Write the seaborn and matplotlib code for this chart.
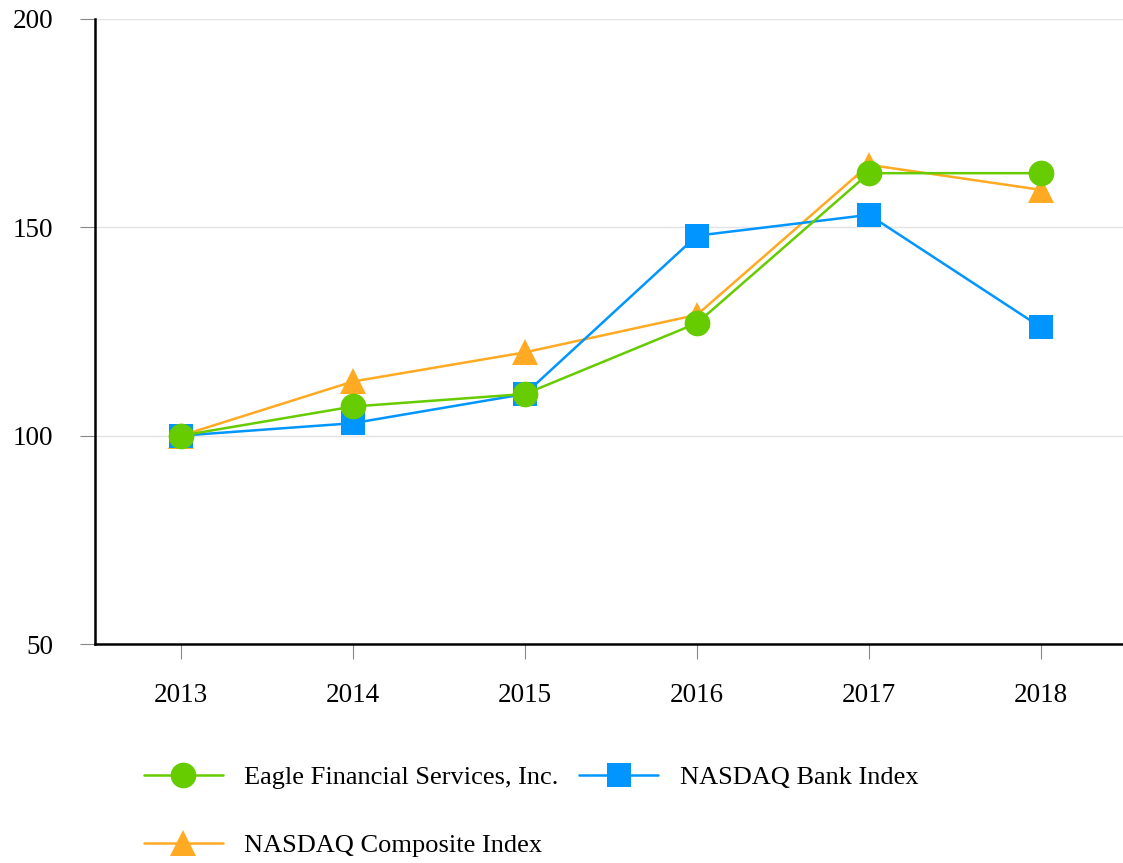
import matplotlib
matplotlib.use("Agg")
import matplotlib.pyplot as plt
import seaborn as sns
import pandas as pd
from matplotlib.lines import Line2D

years = ["2013", "2014", "2015", "2016", "2017", "2018"]
eagle = [100, 107, 110, 127, 163, 163]
bank = [100, 103, 110, 148, 153, 126]
composite = [100, 113, 120, 129, 165, 159]

names = ["Eagle Financial Services, Inc.", "NASDAQ Bank Index", "NASDAQ Composite Index"]
colors = {"Eagle Financial Services, Inc.": "#66CC00",
          "NASDAQ Bank Index": "#0095FF",
          "NASDAQ Composite Index": "#FFAA22"}
markers = {"Eagle Financial Services, Inc.": "o",
           "NASDAQ Bank Index": "s",
           "NASDAQ Composite Index": "^"}
msizes = {"o": 18.5, "s": 17, "^": 19}
values = {"Eagle Financial Services, Inc.": eagle,
          "NASDAQ Bank Index": bank,
          "NASDAQ Composite Index": composite}

sns.set_theme(style="white")
plt.rcParams['font.family'] = ['Liberation Serif', 'DejaVu Serif']

fig = plt.figure(figsize=(11.23, 8.63), dpi=100)
ax = fig.add_axes([95/1123, 1-644/863, 1028/1123, 625/863])

for name in ["NASDAQ Composite Index", "NASDAQ Bank Index", "Eagle Financial Services, Inc."]:
    df = pd.DataFrame({"x": list(range(len(years))), "y": values[name]})
    m = markers[name]
    sns.lineplot(data=df, x="x", y="y", ax=ax, color=colors[name], marker=m,
                 markersize=msizes[m], markeredgewidth=0,
                 linewidth=1.8, legend=False, clip_on=False)

ax.set_xlim(-0.5, 5.477)
ax.set_ylim(50, 200)
ax.set_xticks(range(len(years)))
ax.set_xticklabels(years)
ax.set_yticks([50, 100, 150, 200])
ax.set_xlabel("")
ax.set_ylabel("")
ax.grid(axis="y", color="#e3e3e3", linewidth=1)
ax.set_axisbelow(True)
for s in ["top", "right"]:
    ax.spines[s].set_visible(False)
for s in ["left", "bottom"]:
    ax.spines[s].set_color("black")
    ax.spines[s].set_linewidth(1.8)
ax.tick_params(axis="both", which="major", length=11, width=0.8, color="#888888",
               labelsize=19.5, labelcolor="black", direction="out", left=True, bottom=True)
ax.tick_params(axis="y", pad=19)
ax.tick_params(axis="x", pad=17)

order = ["Eagle Financial Services, Inc.", "NASDAQ Composite Index", "NASDAQ Bank Index"]
handles = [Line2D([0], [0], color=colors[n], marker=markers[n], markersize=msizes[markers[n]],
                  markeredgewidth=0, linewidth=1.8) for n in order]
leg = fig.legend(handles, order, loc="upper left", bbox_to_anchor=(133/1123, 1-755/863),
                 ncol=2, frameon=False, fontsize=19, handlelength=3.0, handletextpad=0.8,
                 columnspacing=0.8, labelspacing=1.7, borderaxespad=0)
for t in leg.get_texts():
    t.set_color("black")

fig.savefig("out.png", dpi=100)
